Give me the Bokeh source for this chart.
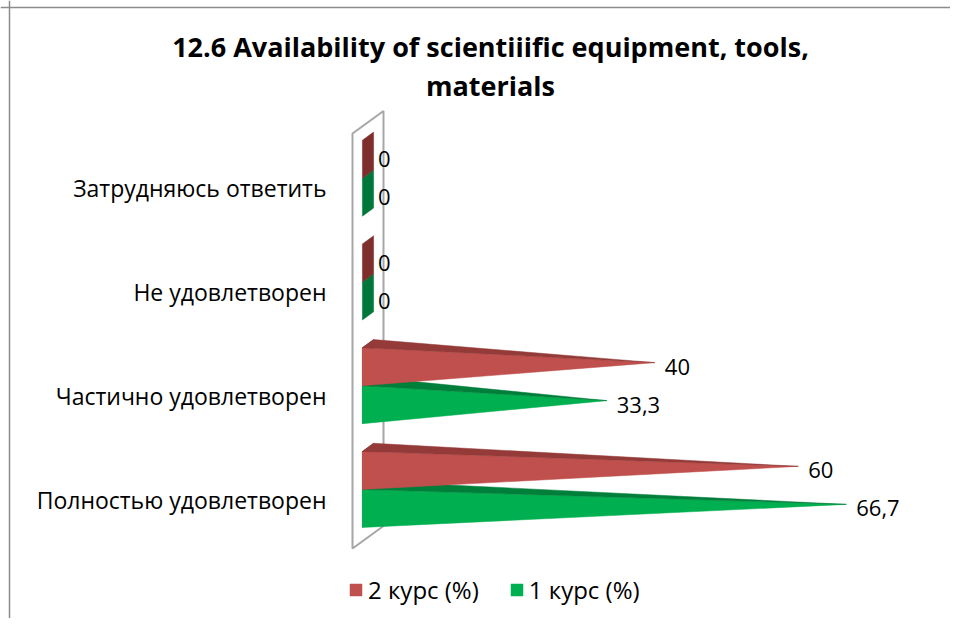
from bokeh.plotting import figure
from bokeh.models import Range1d, Span, Legend, LegendItem, ColumnDataSource
from bokeh.core.properties import value
from bokeh.embed import file_html
from bokeh.resources import INLINE

# ---------------- data ----------------
categories = ["Полностью удовлетворен", "Частично удовлетворен",
              "Не удовлетворен", "Затрудняюсь ответить"]
course2 = [60, 40, 0, 0]          # 2 курс (%)
course1 = [66.7, 33.3, 0, 0]      # 1 курс (%)
course2_labels = ["60", "40", "0", "0"]
course1_labels = ["66,7", "33,3", "0", "0"]
series_names = ["2 курс (%)", "1 курс (%)"]
title_lines = ["12.6 Availability of scientiiific equipment, tools,", "materials"]

# ---------------- layout ----------------
W, H = 950, 618
KX = 7.17        # px per value unit
KY = 103.75      # px per category band
X0_PX = 352      # x of value 0 (front of floor)
Y0_PX = 548      # y of floor bottom (front)
n = len(categories)

xs0 = -X0_PX / KX
xe0 = xs0 + W / KX
ye0 = n + (Y0_PX - n * KY) / KY
ys0 = ye0 - H / KY


def dx(px):
    return xs0 + px / KX


def dy(py):
    return ye0 - py / KY


DX = 31 / KX      # full depth offset in value units
DY = 22.5 / KY    # full depth offset in category units
F1, F2, FA = 0.32, 0.68, 0.5
HB = 38 / KY      # bar thickness

FONT = "Open Sans"

p = figure(width=W, height=H, output_backend="svg", toolbar_location=None,
           x_range=Range1d(xs0, xe0), y_range=Range1d(ys0, ye0),
           x_axis_type=None, y_axis_type=None, min_border=0,
           background_fill_color="white", border_fill_color="white",
           outline_line_color=None)
p.xgrid.visible = False
p.ygrid.visible = False

# chart border (top and left visible)
p.add_layout(Span(location=dx(9), dimension="height", line_color="#8c8c8c", line_width=1.5))
p.add_layout(Span(location=dy(7), dimension="width", line_color="#8c8c8c", line_width=1.5))

# floor (value-0 plane)
p.patch([0, 0, DX, DX], [0, n, n + DY, DY], fill_color=None,
        line_color="#a6a6a6", line_width=2)


def build(vals, upper):
    base = dict(xs=[], ys=[])
    front = dict(xs=[], ys=[])
    top = dict(xs=[], ys=[])
    lab = dict(x=[], y=[])
    for i, v in enumerate(vals):
        c = i + 0.5
        y0, y1 = (c, c + HB) if upper else (c - HB, c)
        ym = (y0 + y1) / 2
        base["xs"].append([F1 * DX, F2 * DX, F2 * DX, F1 * DX])
        base["ys"].append([y1 + F1 * DY, y1 + F2 * DY, y0 + F2 * DY, y0 + F1 * DY])
        if v > 0:
            front["xs"].append([F1 * DX, F1 * DX, v + FA * DX])
            front["ys"].append([y1 + F1 * DY, y0 + F1 * DY, ym + FA * DY])
            top["xs"].append([F1 * DX, F2 * DX, v + FA * DX])
            top["ys"].append([y1 + F1 * DY, y1 + F2 * DY, ym + FA * DY])
        lab["x"].append(v + FA * DX + 10 / KX)
        lab["y"].append(ym + F1 * DY)
    return base, front, top, lab


series = [
    (course1, course1_labels, False, "#00b050", "#007f3b", "#00773a"),
    (course2, course2_labels, True, "#c0504d", "#943b39", "#7d2e2d"),
]
front_renderers = []
label_sets = []
for vals, labels, upper, main_c, top_c, base_c in series:
    base, front, top, lab = build(vals, upper)
    p.patches("xs", "ys", source=ColumnDataSource(base), fill_color=base_c,
              line_color=base_c, line_width=0.5)
    fr = p.patches("xs", "ys", source=ColumnDataSource(front), fill_color=main_c,
                   line_color=main_c, line_width=0.5)
    p.patches("xs", "ys", source=ColumnDataSource(top), fill_color=top_c,
              line_color=top_c, line_width=0.5)
    front_renderers.append(fr)
    lab["text"] = labels
    label_sets.append(lab)

for lab in label_sets:
    p.text("x", "y", text="text", source=ColumnDataSource(lab),
           text_font=value(FONT), text_font_size="22px", text_color="#000000",
           text_align="left", text_baseline="middle")

# category labels
cat_src = ColumnDataSource(dict(x=[dx(326)] * n,
                                y=[i + 0.5 - 0.03 for i in range(n)],
                                text=categories))
p.text("x", "y", text="text", source=cat_src, text_font=value(FONT),
       text_font_size="23px", text_color="#000000", text_align="right",
       text_baseline="middle")

# title
title_src = ColumnDataSource(dict(x=[dx(490)] * 2,
                                  y=[dy(46), dy(85)],
                                  text=title_lines))
p.text("x", "y", text="text", source=title_src, text_font=value(FONT),
       text_font_size="27px", text_font_style="bold", text_color="#000000",
       text_align="center", text_baseline="middle")

# legend
legend = Legend(items=[LegendItem(label=series_names[0], renderers=[front_renderers[1]]),
                       LegendItem(label=series_names[1], renderers=[front_renderers[0]])],
                orientation="horizontal", location=(348, 12),
                glyph_width=15, glyph_height=15, label_standoff=5, spacing=30,
                padding=0, margin=0, border_line_color=None,
                background_fill_alpha=0,
                label_text_font=FONT, label_text_font_size="24px",
                label_text_color="#000000")
p.add_layout(legend, "center")

open("out.html", "w").write(file_html(p, INLINE))
